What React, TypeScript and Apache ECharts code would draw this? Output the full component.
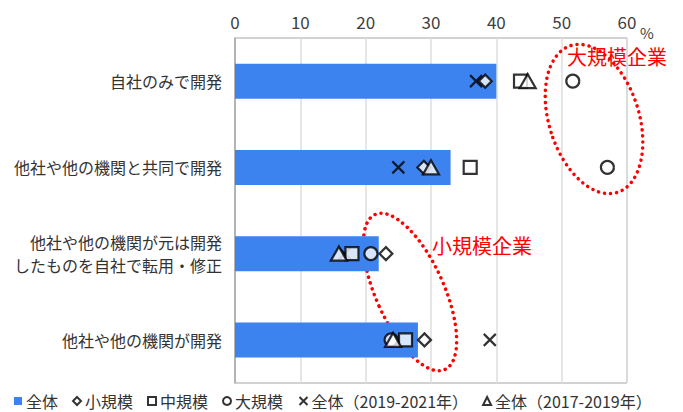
import React, { useEffect, useRef } from "react";
import * as echarts from "echarts";

const categories = [
  "自社のみで開発",
  "他社や他の機関と共同で開発",
  "他社や他の機関が元は開発\nしたものを自社で転用・修正",
  "他社や他の機関が開発",
];
const totalValues = [40, 33, 22, 28];
const smallValues = [38.3, 28.9, 23.1, 29.0];
const mediumValues = [43.7, 36.0, 17.9, 26.1];
const largeValues = [51.7, 57.0, 20.8, 23.9];
const total1921Values = [36.9, 25.0, 16.8, 39.0];
const total1719Values = [44.8, 30.0, 15.9, 24.2];
const xTicks = [0, 10, 20, 30, 40, 50, 60];

const FONT = "'Noto Sans CJK JP', 'Noto Sans', sans-serif";
const crossPath = "path://M0,0L10,10M10,0L0,10";

export default function App() {
  const ref = useRef<HTMLDivElement>(null);
  useEffect(() => {
    if (!ref.current) return;
    const chart = echarts.init(ref.current, null, { renderer: "svg" });
    const markerStyle = { color: "#ffffff", borderColor: "#000000", borderWidth: 2.2 };
    const scatter = (name: string, data: number[], symbol: string, size: any, z: number) => ({
      name,
      type: "scatter",
      data,
      symbol,
      symbolSize: size,
      itemStyle: symbol === crossPath
        ? { color: "none", borderColor: "#000000", borderWidth: 2.2 }
        : markerStyle,
      z,
      silent: true,
    });
    chart.setOption({
      animation: false,
      textStyle: { fontFamily: FONT },
      grid: {
        left: 235,
        right: 56,
        top: 38,
        bottom: 29,
        show: true,
        borderColor: "#a6a6a6",
        borderWidth: 1,
      },
      xAxis: {
        type: "value",
        position: "top",
        min: xTicks[0],
        max: xTicks[xTicks.length - 1],
        interval: 10,
        axisLine: { show: false },
        axisTick: { show: false },
        axisLabel: { fontSize: 17, color: "#404040", margin: 8, fontFamily: FONT },
        splitLine: { show: true, lineStyle: { color: "#dedede", width: 1.5 } },
      },
      yAxis: {
        type: "category",
        data: categories,
        inverse: true,
        axisLine: { show: true, lineStyle: { color: "#a6a6a6", width: 1.5 } },
        axisTick: { show: false },
        axisLabel: {
          fontSize: 16,
          color: "#333333",
          margin: 13,
          lineHeight: 23,
          align: "right",
          fontFamily: FONT,
        },
      },
      legend: {
        left: 9,
        top: 388,
        itemWidth: 8,
        itemHeight: 8,
        itemGap: 14,
        textStyle: { fontSize: 16, color: "#333333", fontFamily: FONT, padding: [0, 0, 0, -1] },
        data: [
          { name: "全体", icon: "rect" },
          "小規模",
          "中規模",
          "大規模",
          "全体（2019-2021年）",
          "全体（2017-2019年）",
        ],
      },
      series: [
        {
          name: "全体",
          type: "bar",
          data: totalValues,
          barWidth: 35,
          itemStyle: { color: "#3d83f0" },
          z: 2,
          silent: true,
        },
        scatter("小規模", smallValues, "diamond", 13, 4),
        scatter("中規模", mediumValues, "rect", 13, 5),
        scatter("大規模", largeValues, "circle", 13, 6),
        scatter("全体（2019-2021年）", total1921Values, crossPath, 12, 3),
        scatter("全体（2017-2019年）", total1719Values, "triangle", [16, 14], 7),
      ],
      graphic: [
        {
          type: "ellipse",
          x: 594,
          y: 119,
          rotation: 0.307,
          shape: { cx: 0, cy: 0, rx: 45, ry: 77 },
          style: { fill: "none", stroke: "#ff0000", lineWidth: 3.5, lineDash: [0.1, 6], lineCap: "round" },
          z: 1,
          silent: true,
        },
        {
          type: "ellipse",
          x: 410,
          y: 292,
          rotation: 0.422,
          shape: { cx: 0, cy: 0, rx: 34, ry: 85 },
          style: { fill: "none", stroke: "#ff0000", lineWidth: 3.5, lineDash: [0.1, 6], lineCap: "round" },
          z: 1,
          silent: true,
        },
        {
          type: "text",
          left: 567,
          top: 46,
          style: { text: "大規模企業", fill: "#ff0000", fontSize: 20, fontFamily: FONT },
          z: 10,
        },
        {
          type: "text",
          left: 432,
          top: 235,
          style: { text: "小規模企業", fill: "#ff0000", fontSize: 20, fontFamily: FONT },
          z: 10,
        },
        {
          type: "text",
          left: 640,
          top: 25,
          style: { text: "%", fill: "#404040", fontSize: 15, fontFamily: FONT },
          z: 10,
        },
      ],
    });
    return () => chart.dispose();
  }, []);
  return (
    <div
      ref={ref}
      style={{ position: "fixed", left: 0, top: 0, width: 683, height: 412, background: "#ffffff" }}
    />
  );
}
